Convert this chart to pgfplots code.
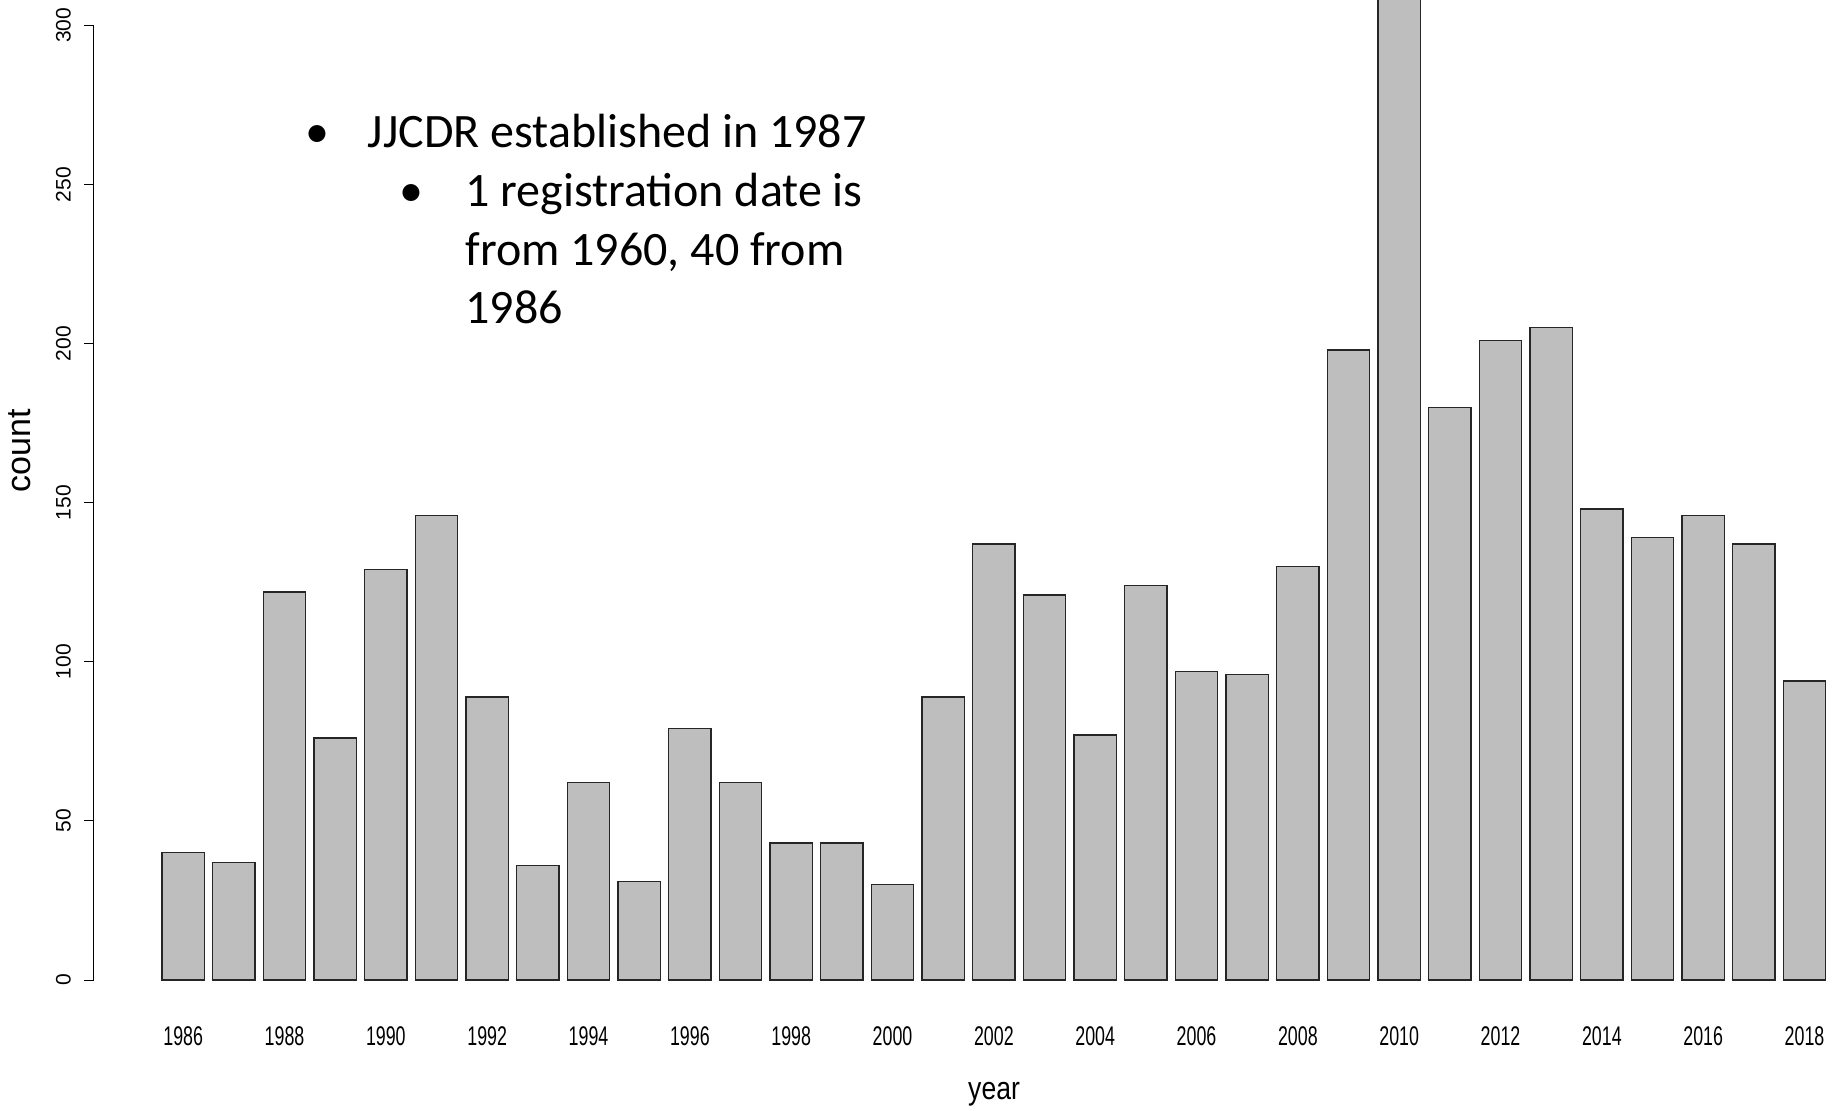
\documentclass[border=0pt]{standalone}
\usepackage{pgfplots}
\pgfplotsset{compat=1.18}
\usepackage{fontspec}
\setmainfont{Carlito}
\newfontfamily\arial{Liberation Sans}
\newfontfamily\arialn[FakeStretch=0.66]{Liberation Sans}
\newfontfamily\arialy[FakeStretch=0.83]{Liberation Sans}
\definecolor{rgrey}{HTML}{BEBEBE}
\begin{document}
\begin{tikzpicture}
\path[use as bounding box] (-47pt,-65pt) rectangle (873.5pt,490pt);
\begin{axis}[
  at={(0,0)}, anchor=south west,
  scale only axis,
  width=873.5pt, height=490pt,
  xmin=-1.76, xmax=32.72,
  ymin=0, ymax=308,
  axis line style={draw=none},
  xtick={0,2,...,32},
  xticklabels={1986,1988,1990,1992,1994,1996,1998,2000,2002,2004,2006,2008,2010,2012,2014,2016,2018},
  x tick style={draw=none},
  xticklabel style={font=\arialn\fontsize{13.5}{15}\selectfont, anchor=base, yshift=-27.8pt},
  ytick={0,50,...,300},
  ytick pos=left,
  tick align=outside,
  major tick length=5pt,
  y tick style={black, line width=0.5pt},
  /pgf/number format/assume math mode=true,
  yticklabel style={font=\arial\fontsize{10.5}{12}\selectfont, rotate=90, anchor=center, yshift=10.3pt},
  xlabel={year},
  xlabel style={font=\arialy\fontsize{16}{18}\selectfont, at={(axis description cs:0.5152,0)}, anchor=base, yshift=-59.8pt},
  ylabel={count},
  ylabel style={font=\arial\fontsize{17}{20}\selectfont, at={(axis description cs:0,0.540)}, anchor=center, yshift=37pt},
]
\addplot[ybar, bar width=0.833, fill=rgrey, draw=black!85, line width=0.7pt] coordinates {
(0,40) (1,37) (2,122) (3,76) (4,129) (5,146) (6,89) (7,36) (8,62) (9,31)
(10,79) (11,62) (12,43) (13,43) (14,30) (15,89) (16,137) (17,121) (18,77) (19,124)
(20,97) (21,96) (22,130) (23,198) (24,330) (25,180) (26,201) (27,205) (28,148) (29,139)
(30,146) (31,137) (32,94)
};
\coordinate (ya) at (axis cs:-1.76,0);
\coordinate (yb) at (axis cs:-1.76,300);
\end{axis}
\draw[black, line width=0.5pt] (ya) -- (yb);
\begin{scope}[every node/.style={inner sep=0pt, font=\fontsize{24}{29}\selectfont}]
\node[anchor=base] at (111.5pt,416pt) {•};
\node[anchor=base west] at (136.75pt,416pt) {JJCDR established in 1987};
\node[anchor=base] at (158.5pt,386.6pt) {•};
\node[anchor=base west] at (185.5pt,386.6pt) {1 registration date is};
\node[anchor=base west] at (185.5pt,357.3pt) {from 1960, 40 from};
\node[anchor=base west] at (185.5pt,328pt) {1986};
\end{scope}
\end{tikzpicture}
\end{document}
